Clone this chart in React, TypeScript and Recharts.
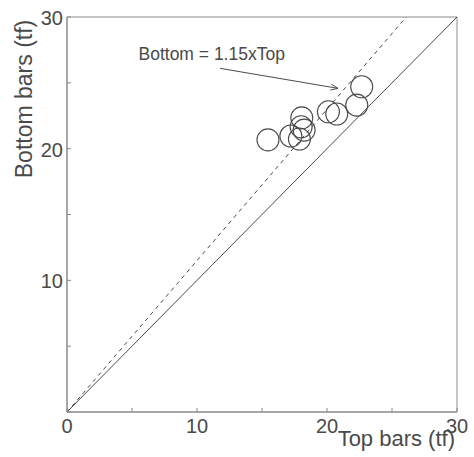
import { ScatterChart, Scatter, XAxis, YAxis, ReferenceLine, ReferenceArea, ReferenceDot } from 'recharts';

// measured pairs: top bars vs bottom bars (tf)
const topBars = [15.46, 17.22, 18.06, 18.01, 18.24, 17.88, 20.11, 20.75, 22.29, 22.67];
const bottomBars = [20.67, 20.96, 22.34, 21.66, 21.41, 20.73, 22.8, 22.63, 23.31, 24.7];

const axisTicks = [0, 5, 10, 15, 20, 25, 30];
const labelledTicks = [0, 10, 20, 30];

const identityLine = [{ x: 0, y: 0 }, { x: 30, y: 30 }];
const ratioLine = [{ x: 0, y: 0 }, { x: 26.09, y: 30 }];
const arrowLine = [{ x: 11.78, y: 26.1 }, { x: 20.85, y: 24.58 }];
const noteText = 'Bottom = 1.15xTop';
const notePos = { x: 5.5, y: 26.73 };

const points = topBars.map((t, i) => ({ x: t, y: bottomBars[i] }));

const FONT = '"Liberation Sans", Arial, Helvetica, sans-serif';
const INK = '#4a4a4a';
const FRAME = '#8a8a8a';

const XTick = (props: any) => {
  const { x, y, payload } = props;
  const v = payload.value;
  return (
    <g>
      <line x1={x} y1={y} x2={x} y2={y - 4} stroke={FRAME} />
      {labelledTicks.includes(v) && (
        <text x={x} y={y + 21} textAnchor="middle" fontSize={20} fill={INK} fontFamily={FONT}>{v}</text>
      )}
    </g>
  );
};

const YTick = (props: any) => {
  const { x, y, payload } = props;
  const v = payload.value;
  return (
    <g>
      <line x1={x} y1={y} x2={x + 4} y2={y} stroke={FRAME} />
      {labelledTicks.includes(v) && v !== 0 && (
        <text x={x - 4} y={y + 8} textAnchor="end" fontSize={20} fill={INK} fontFamily={FONT}>{v}</text>
      )}
    </g>
  );
};

const XLabel = (props: any) => {
  const vb = props.viewBox;
  return (
    <text x={vb.x + vb.width - 2} y={vb.y + 34} textAnchor="end" fontSize={22} fill={INK} fontFamily={FONT}>
      Top bars (tf)
    </text>
  );
};

const YLabel = (props: any) => {
  const vb = props.viewBox;
  const cx = vb.x + 24.5;
  const cy = 99;
  return (
    <text x={cx} y={cy} transform={`rotate(-90, ${cx}, ${cy})`} textAnchor="middle" fontSize={23} fill={INK} fontFamily={FONT}>
      Bottom bars (tf)
    </text>
  );
};

const Ring = (props: any) => (
  <circle cx={props.cx} cy={props.cy} r={11} fill="none" stroke={INK} strokeWidth={1.1} />
);

const Arrow = (props: any) => {
  const { x1, y1, x2, y2 } = props;
  const a = Math.atan2(y2 - y1, x2 - x1);
  const len = 8;
  const spread = 0.38;
  return (
    <g>
      <line x1={x1} y1={y1} x2={x2} y2={y2} stroke={INK} strokeWidth={1} />
      <polyline
        points={`${x2 - len * Math.cos(a - spread)},${y2 - len * Math.sin(a - spread)} ${x2},${y2} ${x2 - len * Math.cos(a + spread)},${y2 - len * Math.sin(a + spread)}`}
        fill="none"
        stroke={INK}
        strokeWidth={1}
      />
    </g>
  );
};

const Note = (props: any) => (
  <text x={props.cx} y={props.cy} fontSize={17.5} fill={INK} fontFamily={FONT}>{noteText}</text>
);

export default function App() {
  return (
    <div style={{ width: 474, height: 457, background: '#fff' }}>
      <style>{'body{margin:0}'}</style>
      <ScatterChart width={474} height={457} margin={{ top: 17, right: 17, bottom: 0, left: 7 }}>
        <XAxis
          type="number"
          dataKey="x"
          domain={[0, 30]}
          ticks={axisTicks}
          interval={0}
          tickLine={false}
          tickSize={0}
          tickMargin={0}
          height={45}
          axisLine={{ stroke: FRAME }}
          tick={<XTick />}
          label={<XLabel />}
          allowDataOverflow
        />
        <YAxis
          type="number"
          dataKey="y"
          domain={[0, 30]}
          ticks={axisTicks}
          interval={0}
          tickLine={false}
          tickSize={0}
          tickMargin={0}
          width={60}
          axisLine={{ stroke: FRAME }}
          tick={<YTick />}
          label={<YLabel />}
          allowDataOverflow
        />
        <ReferenceArea x1={0} x2={30} y1={0} y2={30} fill="none" stroke={FRAME} strokeWidth={1} />
        <ReferenceLine segment={identityLine} stroke={INK} strokeWidth={1} />
        <ReferenceLine segment={ratioLine} stroke={INK} strokeWidth={1} strokeDasharray="4 4" />
        <ReferenceLine segment={arrowLine} shape={<Arrow />} />
        <ReferenceDot x={notePos.x} y={notePos.y} r={0} shape={<Note />} />
        <Scatter data={points} shape={<Ring />} isAnimationActive={false} />
      </ScatterChart>
    </div>
  );
}
